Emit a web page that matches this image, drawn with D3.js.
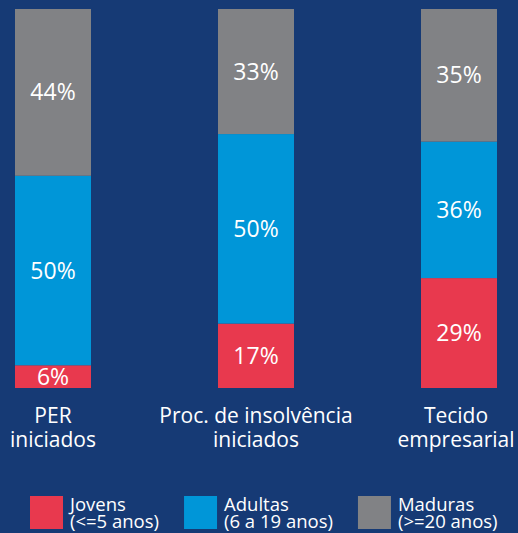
<!DOCTYPE html>
<html>
<head>
<meta charset="utf-8">
<script src="https://cdn.jsdelivr.net/npm/d3@7"></script>
<style>
  html, body { margin: 0; padding: 0; background: #163a75; }
  text { font-family: "Open Sans", sans-serif; fill: #ffffff; }
</style>
</head>
<body>
<div id="chart"></div>
<script>
var width = 518,
	height = 533;

// categories (each label split into its lines)
const CATEGORIES = ["PER iniciados", "Proc. de insolvência iniciados", "Tecido empresarial"];
const CATEGORY_LINES = [["PER", "iniciados"], ["Proc. de insolvência", "iniciados"], ["Tecido", "empresarial"]];

// series values, in %
const JOVENS = [6, 17, 29];
const ADULTAS = [50, 50, 36];
const MADURAS = [44, 33, 35];

const SERIES = ["Jovens", "Adultas", "Maduras"];
const SERIES_SUB = ["(<=5 anos)", "(6 a 19 anos)", "(>=20 anos)"];
const COLORS = ["#e8394e", "#0096d8", "#818285"];

var data = CATEGORIES.map(function (c, i) {
	return { cat: c, Jovens: JOVENS[i], Adultas: ADULTAS[i], Maduras: MADURAS[i] };
});

var svg = d3
	.select("#chart")
	.append("svg")
	.attr("width", width)
	.attr("height", height);

var x = d3
	.scaleBand()
	.domain(CATEGORIES)
	.range([15, 497])
	.paddingInner(0.6256)
	.paddingOuter(0);

var y = d3.scaleLinear().domain([0, 100]).range([388, 9]);

var color = d3.scaleOrdinal().domain(SERIES).range(COLORS);

var stacked = d3.stack().keys(SERIES)(data);

// Bars
var layers = svg
	.selectAll("g.layer")
	.data(stacked)
	.enter()
	.append("g")
	.attr("class", "layer")
	.attr("fill", function (d) {
		return color(d.key);
	});

layers
	.selectAll("rect")
	.data(function (d) {
		return d;
	})
	.enter()
	.append("rect")
	.attr("x", function (d) {
		return x(d.data.cat);
	})
	.attr("y", function (d) {
		return y(d[1]);
	})
	.attr("width", x.bandwidth())
	.attr("height", function (d) {
		return y(d[0]) - y(d[1]);
	});

// value labels
layers
	.selectAll("text")
	.data(function (d) {
		return d;
	})
	.enter()
	.append("text")
	.attr("x", function (d) {
		return x(d.data.cat) + x.bandwidth() / 2;
	})
	.attr("y", function (d) {
		return (y(d[0]) + y(d[1])) / 2 + 8;
	})
	.attr("text-anchor", "middle")
	.style("font-size", "23px")
	.text(function (d) {
		return d[1] - d[0] + "%";
	});

// category labels, one text per line
CATEGORIES.forEach(function (c, i) {
	var cx = Math.min(x(c) + x.bandwidth() / 2, 456);
	CATEGORY_LINES[i].forEach(function (line, j) {
		svg
			.append("text")
			.attr("class", "cat")
			.attr("text-anchor", "middle")
			.style("font-size", "21px")
			.attr("x", cx)
			.attr("y", 423 + j * 24)
			.text(line);
	});
});

// Legend
var legend = svg.append("g").attr("class", "legend");
var lx = 30;
SERIES.forEach(function (s, i) {
	var item = legend.append("g").attr("transform", "translate(" + lx + ",496)");
	item
		.append("rect")
		.attr("width", 33)
		.attr("height", 33)
		.attr("fill", color(s));
	item
		.append("text")
		.attr("x", 40)
		.attr("y", 15)
		.style("font-size", "18.5px")
		.text(s);
	var sub = item
		.append("text")
		.attr("x", 40)
		.attr("y", 32)
		.style("font-size", "18.5px")
		.text(SERIES_SUB[i]);
	var w = sub.node().getComputedTextLength();
	lx += 40 + w + 25;
});
</script>
</body>
</html>
